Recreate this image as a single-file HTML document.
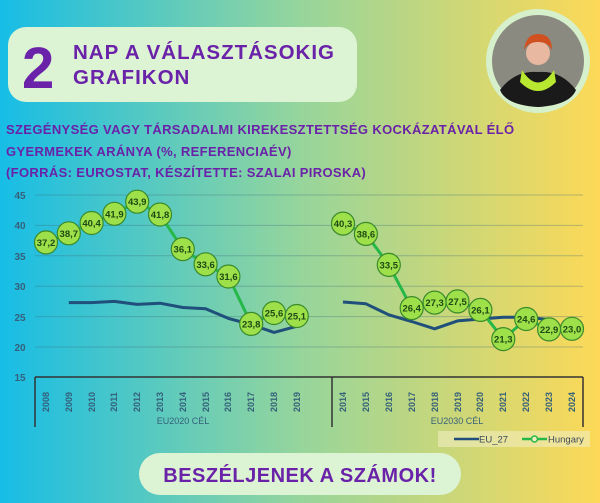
<!DOCTYPE html>
<html><head><meta charset="utf-8"><style>
body{margin:0;width:600px;height:503px;overflow:hidden}
svg{display:block}
.t{font-family:"Liberation Sans",sans-serif;font-weight:bold}
</style></head><body>
<svg width="600" height="503" viewBox="0 0 600 503" xmlns="http://www.w3.org/2000/svg">
<defs>
<linearGradient id="bg" x1="0" x2="1" y1="0" y2="0">
<stop offset="0" stop-color="#17bde6"/><stop offset="0.5" stop-color="#96d59c"/><stop offset="1" stop-color="#fdd957"/>
</linearGradient>
</defs>
<rect width="600" height="503" fill="url(#bg)"/>
<rect x="8" y="27" width="349" height="75" rx="18" fill="#dcf3d4"/>
<text x="22" y="88" class="t" font-size="58" fill="#6a22a8">2</text>
<text x="73" y="59" class="t" font-size="20.5" fill="#6a22a8" letter-spacing="1">NAP A VÁLASZTÁSOKIG</text>
<text x="73" y="84" class="t" font-size="20.5" fill="#6a22a8" letter-spacing="1">GRAFIKON</text>
<circle cx="538" cy="61" r="52" fill="#d6f0cc"/>
<circle cx="538" cy="61" r="46" fill="#8a8a80"/>
<path d="M500 90 Q515 70 538 72 Q561 70 576 90 Q570 105 538 107 Q506 105 500 90Z" fill="#1a1a1a"/>
<path d="M522 70 Q538 95 554 70 L556 82 Q538 100 520 82Z" fill="#b8e830"/>
<circle cx="538" cy="53" r="12" fill="#e8b8a0"/>
<path d="M524 50 Q526 34 538 34 Q552 34 552 50 Q548 42 538 42 Q528 42 524 50Z" fill="#d05020"/>
<text x="6" y="134" class="t" font-size="13" fill="#6a22a8" letter-spacing="0.35">SZEGÉNYSÉG VAGY TÁRSADALMI KIREKESZTETTSÉG KOCKÁZATÁVAL ÉLŐ</text>
<text x="6" y="156" class="t" font-size="13" fill="#6a22a8" letter-spacing="0.35">GYERMEKEK ARÁNYA (%, REFERENCIAÉV)</text>
<text x="6" y="177" class="t" font-size="13" fill="#6a22a8" letter-spacing="0.35">(FORRÁS: EUROSTAT, KÉSZÍTETTE: SZALAI PIROSKA)</text>
<g stroke="#3a6a78" stroke-opacity="0.35" stroke-width="1">
<line x1="35" x2="583" y1="195" y2="195"/><line x1="35" x2="583" y1="225.4" y2="225.4"/>
<line x1="35" x2="583" y1="255.8" y2="255.8"/><line x1="35" x2="583" y1="286.2" y2="286.2"/>
<line x1="35" x2="583" y1="316.6" y2="316.6"/><line x1="35" x2="583" y1="347" y2="347"/>
</g>
<g class="t" font-size="10" fill="#35607a" text-anchor="middle">
<text x="20" y="199">45</text><text x="20" y="229">40</text><text x="20" y="260">35</text>
<text x="20" y="290">30</text><text x="20" y="321">25</text><text x="20" y="351">20</text><text x="20" y="381">15</text>
</g>
<g stroke="#333" stroke-width="1.5">
<line x1="35" x2="583" y1="377" y2="377"/>
<line x1="35" x2="35" y1="377" y2="427"/><line x1="332" x2="332" y1="377" y2="427"/><line x1="583" x2="583" y1="377" y2="427"/>
</g>
<g class="t" font-size="9" fill="#35607a" text-anchor="middle">
<text transform="translate(49,402) rotate(-90)">2008</text>
<text transform="translate(72,402) rotate(-90)">2009</text>
<text transform="translate(95,402) rotate(-90)">2010</text>
<text transform="translate(117,402) rotate(-90)">2011</text>
<text transform="translate(140,402) rotate(-90)">2012</text>
<text transform="translate(163,402) rotate(-90)">2013</text>
<text transform="translate(186,402) rotate(-90)">2014</text>
<text transform="translate(209,402) rotate(-90)">2015</text>
<text transform="translate(231,402) rotate(-90)">2016</text>
<text transform="translate(254,402) rotate(-90)">2017</text>
<text transform="translate(277,402) rotate(-90)">2018</text>
<text transform="translate(300,402) rotate(-90)">2019</text>
<text transform="translate(346,402) rotate(-90)">2014</text>
<text transform="translate(369,402) rotate(-90)">2015</text>
<text transform="translate(392,402) rotate(-90)">2016</text>
<text transform="translate(415,402) rotate(-90)">2017</text>
<text transform="translate(438,402) rotate(-90)">2018</text>
<text transform="translate(461,402) rotate(-90)">2019</text>
<text transform="translate(483,402) rotate(-90)">2020</text>
<text transform="translate(506,402) rotate(-90)">2021</text>
<text transform="translate(529,402) rotate(-90)">2022</text>
<text transform="translate(552,402) rotate(-90)">2023</text>
<text transform="translate(575,402) rotate(-90)">2024</text>
<text x="183" y="424" font-weight="normal">EU2020 CÉL</text>
<text x="457" y="424" font-weight="normal">EU2030 CÉL</text>
</g>
<g fill="none" stroke="#1f4f7a" stroke-width="3" stroke-linejoin="round">
<polyline points="68.8,302.6 91.6,302.6 114.4,301.4 137.2,304.4 160,303.2 182.8,307.5 205.6,308.7 228.4,318.4 251.2,324.5 274,332.4 296.8,326.3"/>
<polyline points="343,302 365.9,303.8 388.8,314.8 411.7,321.5 434.6,328.8 457.5,320.9 480.4,319 503.3,317.2 526.2,317.2 549.1,319.6"/>
</g>
<g fill="none" stroke="#25b848" stroke-width="3">
<polyline points="46,242.4 68.8,233.3 91.6,223 114.4,213.8 137.2,201.7 160,214.5 182.8,249.1 205.6,264.3 228.4,276.5 251.2,323.9 274,313 296.8,316"/>
<polyline points="343,223.6 365.9,233.9 388.8,264.9 411.7,308.1 434.6,302.6 457.5,301.4 480.4,309.9 503.3,339.1 526.2,319 549.1,329.4 572,328.8"/>
</g>
<g fill="#9ee04a" stroke="#3a8a2a" stroke-width="1.2">
<circle cx="46" cy="242.4" r="11.5"/><circle cx="68.8" cy="233.3" r="11.5"/><circle cx="91.6" cy="223" r="11.5"/>
<circle cx="114.4" cy="213.8" r="11.5"/><circle cx="137.2" cy="201.7" r="11.5"/><circle cx="160" cy="214.5" r="11.5"/>
<circle cx="182.8" cy="249.1" r="11.5"/><circle cx="205.6" cy="264.3" r="11.5"/><circle cx="228.4" cy="276.5" r="11.5"/>
<circle cx="251.2" cy="323.9" r="11.5"/><circle cx="274" cy="313" r="11.5"/><circle cx="296.8" cy="316" r="11.5"/>
<circle cx="343" cy="223.6" r="11.5"/><circle cx="365.9" cy="233.9" r="11.5"/><circle cx="388.8" cy="264.9" r="11.5"/>
<circle cx="411.7" cy="308.1" r="11.5"/><circle cx="434.6" cy="302.6" r="11.5"/><circle cx="457.5" cy="301.4" r="11.5"/>
<circle cx="480.4" cy="309.9" r="11.5"/><circle cx="503.3" cy="339.1" r="11.5"/><circle cx="526.2" cy="319" r="11.5"/>
<circle cx="549.1" cy="329.4" r="11.5"/><circle cx="572" cy="328.8" r="11.5"/>
</g>
<g class="t" font-size="9.5" fill="#1d4a12" text-anchor="middle">
<text x="46" y="246">37,2</text><text x="68.8" y="237">38,7</text><text x="91.6" y="226.5">40,4</text>
<text x="114.4" y="217.3">41,9</text><text x="137.2" y="205.2">43,9</text><text x="160" y="218">41,8</text>
<text x="182.8" y="252.6">36,1</text><text x="205.6" y="267.8">33,6</text><text x="228.4" y="280">31,6</text>
<text x="251.2" y="327.4">23,8</text><text x="274" y="316.5">25,6</text><text x="296.8" y="319.5">25,1</text>
<text x="343" y="227.1">40,3</text><text x="365.9" y="237.4">38,6</text><text x="388.8" y="268.4">33,5</text>
<text x="411.7" y="311.6">26,4</text><text x="434.6" y="306.1">27,3</text><text x="457.5" y="304.9">27,5</text>
<text x="480.4" y="313.4">26,1</text><text x="503.3" y="342.6">21,3</text><text x="526.2" y="322.5">24,6</text>
<text x="549.1" y="332.9">22,9</text><text x="572" y="332.3">23,0</text>
</g>
<rect x="438" y="431" width="152" height="16" fill="#f0ecc0" fill-opacity="0.6"/>
<line x1="454" x2="479" y1="439" y2="439" stroke="#1f4f7a" stroke-width="2.5"/>
<text x="479" y="442.5" font-family="Liberation Sans,sans-serif" font-size="9.5" fill="#3a4a5a">EU_27</text>
<line x1="522" x2="547" y1="439" y2="439" stroke="#25b848" stroke-width="2.5"/>
<circle cx="534.5" cy="439" r="3" fill="#f0ecc0" stroke="#25b848" stroke-width="1.5"/>
<text x="548" y="442.5" font-family="Liberation Sans,sans-serif" font-size="9.5" fill="#3a4a5a">Hungary</text>
<rect x="139" y="453" width="322" height="42" rx="21" fill="#dcf3d4"/>
<text x="300" y="482" class="t" font-size="20" fill="#6a22a8" text-anchor="middle" letter-spacing="0.5">BESZÉLJENEK A SZÁMOK!</text>
</svg>
</body></html>
